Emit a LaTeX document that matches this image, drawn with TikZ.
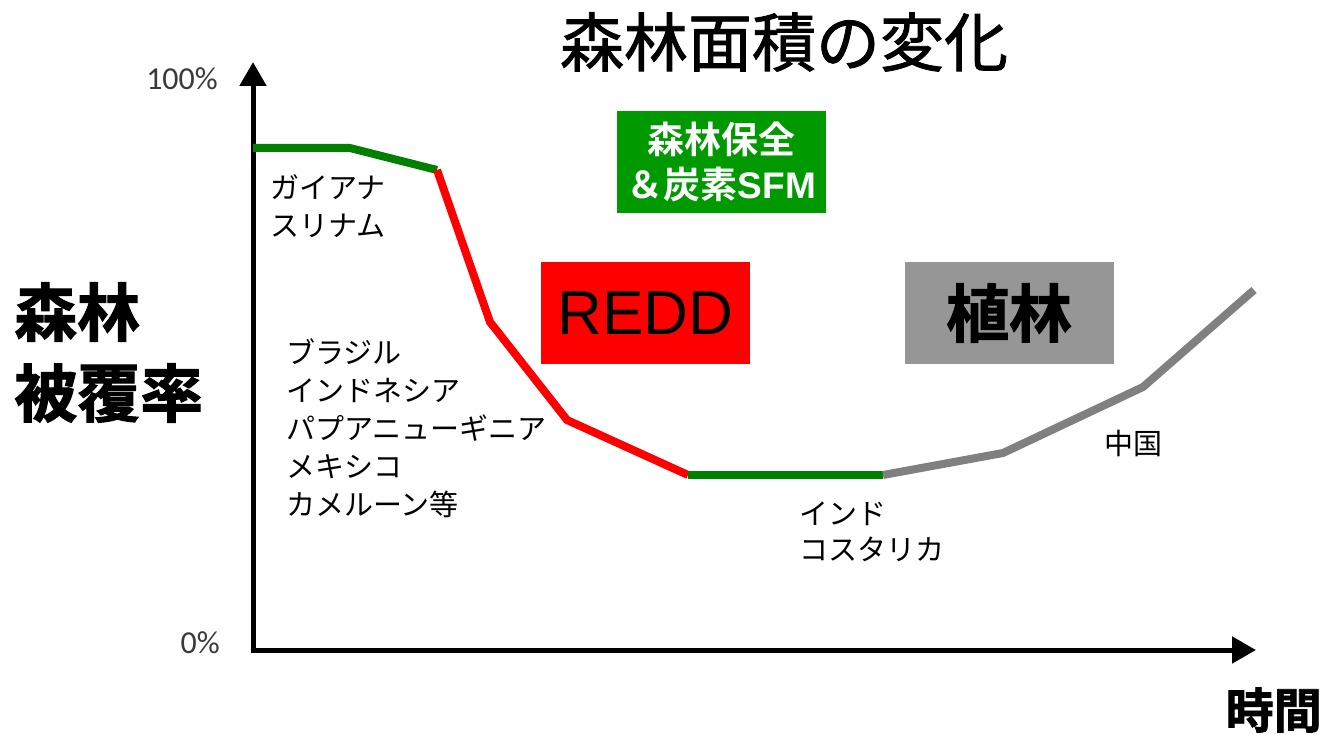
\documentclass[tikz,border=0pt]{standalone}
\usepackage{fontspec}
\usetikzlibrary{arrows.meta}
\setmainfont{Noto Sans CJK JP}
\newfontfamily\jpmed{Noto Sans CJK JP}[FakeBold=1.3]
\newfontfamily\jpheavy{Noto Sans CJK JP Bold}[FakeBold=1.6]
\newfontfamily\jpbold{Noto Sans CJK JP Bold}
\newfontfamily\latin{Liberation Sans}
\newfontfamily\latinb{Liberation Sans Bold}
\newfontfamily\calib{Carlito}
\definecolor{lgreen}{HTML}{008000}
\definecolor{boxgreen}{HTML}{009900}
\definecolor{lred}{HTML}{FF0000}
\definecolor{lgray}{HTML}{808080}
\definecolor{boxgray}{HTML}{969696}
\definecolor{pct}{HTML}{3A3A3A}
\tikzset{
  lbl/.style={inner sep=0pt, anchor=west, align=left, font=\fontsize{29}{38}\selectfont},
  seg/.style={line width=8pt, line cap=butt, line join=miter},
  bigbox/.style={minimum width=209pt, minimum height=102pt, inner sep=0pt, draw=none}
}
\begin{document}
\begin{tikzpicture}[x=1pt,y=-1pt]
\useasboundingbox (0,0) rectangle (1324,735);
\fill[white] (0,0) rectangle (1324,735);

% axes
\coordinate (ytip) at (253,62);
\coordinate (orig) at (253,650);
\coordinate (xtip) at (1256,650);
\draw[line width=5pt, line join=miter, {Triangle[length=24pt,width=26pt]}-{Triangle[length=24pt,width=26pt]}] (ytip) -- (orig) -- (xtip);

% curve
\coordinate (p0) at (253,148);
\coordinate (p1) at (350,148);
\coordinate (p2) at (437,170);
\coordinate (p3) at (490,322);
\coordinate (p4) at (567,420);
\coordinate (p5) at (688,475);
\coordinate (p6) at (883,475);
\coordinate (p7) at (1003,453);
\coordinate (p8) at (1143,387);
\coordinate (p9) at (1254,290);
\draw[seg, lgreen] (p0) -- (p1) -- (p2);
\draw[seg, lred] (p2) -- (p3) -- (p4) -- (p5);
\draw[seg, lgreen] (p5) -- (p6);
\draw[seg, lgray] (p6) -- (p7) -- (p8) -- (p9);

% axis labels
\node[inner sep=0pt, anchor=east, text=pct, font=\calib\fontsize{32}{34}\selectfont] (l100) at (218,79) {100\%};
\node[inner sep=0pt, anchor=east, text=pct, font=\calib\fontsize{32}{34}\selectfont] (l0) at (220,643) {0\%};
\node[inner sep=0pt, anchor=west, font=\jpheavy\fontsize{63}{80}\selectfont] (ylab1) at (14,312) {森林};
\node[inner sep=0pt, anchor=west, font=\jpheavy\fontsize{63}{80}\selectfont] (ylab2) at (14,393) {被覆率};
\node[inner sep=0pt, anchor=east, font=\jpheavy\fontsize{48}{50}\selectfont] (xlab) at (1322,710) {時間};

% title
\node[inner sep=0pt, font=\jpmed\fontsize{64}{70}\selectfont] (title) at (784,42) {森林面積の変化};

% boxes
\node[bigbox, fill=boxgreen, text=white, align=center, font=\jpbold\fontsize{37}{45}\selectfont] (gbox) at (721.5,162) {森林保全\\＆炭素{\latinb SFM}};
\node[bigbox, fill=lred, font=\latin\fontsize{62}{64}\selectfont] (rbox) at (645.5,313) {REDD};
\node[bigbox, fill=boxgray, font=\jpheavy\fontsize{63}{64}\selectfont] (gybox) at (1009,313) {植林};

% labels
\node[lbl] (guy) at (270,206) {ガイアナ\\スリナム};
\node[lbl] (bra) at (286,428) {ブラジル\\インドネシア\\パプアニューギニア\\メキシコ\\カメルーン等};
\node[lbl, font=\fontsize{29}{36}\selectfont] (ind) at (799,532) {インド\\コスタリカ};
\node[lbl] (chn) at (1104,443) {中国};
\end{tikzpicture}
\end{document}
